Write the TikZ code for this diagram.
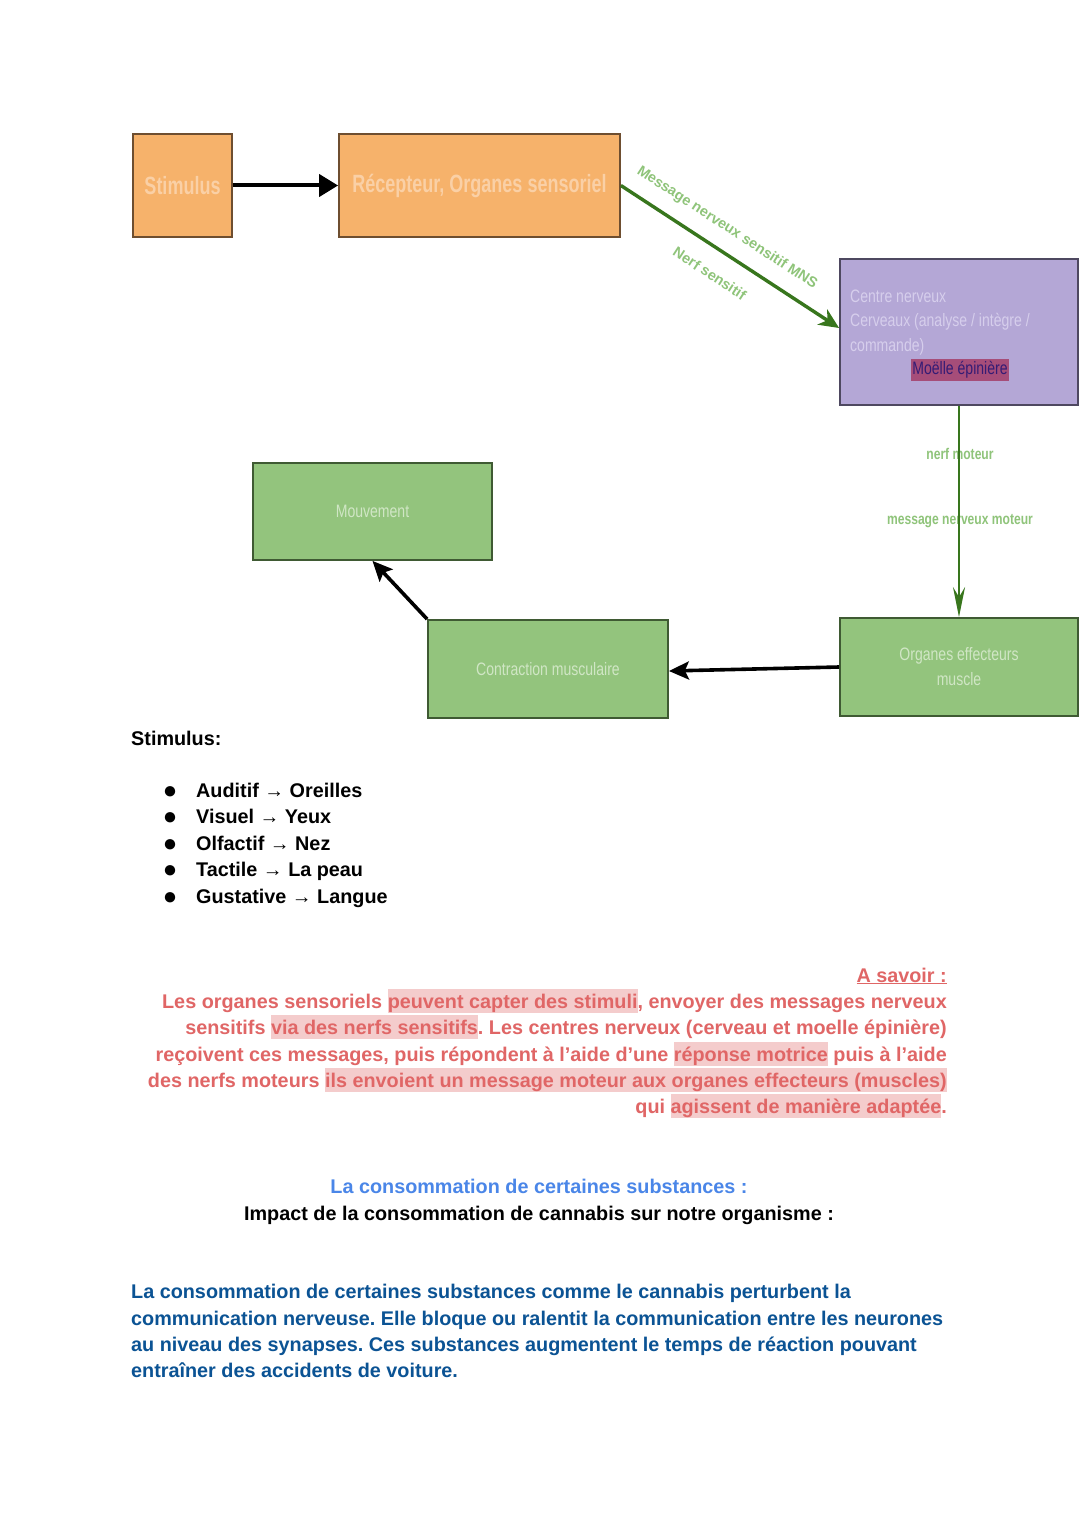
\documentclass[tikz,border=0pt]{standalone}
\usepackage{fontspec}
\setmainfont{Liberation Sans}
\newfontfamily\narrowfont[FakeStretch=0.78]{Liberation Sans}
\newfontfamily\narrowboldfont[FakeStretch=0.72]{Liberation Sans Bold}
\usetikzlibrary{arrows.meta,positioning}

\definecolor{orangefill}{HTML}{F6B26B}
\definecolor{orangeline}{HTML}{6E4E30}
\definecolor{orangetext}{HTML}{FAD0A6}
\definecolor{purplefill}{HTML}{B4A7D6}
\definecolor{purpleline}{HTML}{4E4860}
\definecolor{purpletext}{HTML}{D6CEEC}
\definecolor{greenfill}{HTML}{93C47D}
\definecolor{greenline}{HTML}{3F5A33}
\definecolor{greentext}{HTML}{D0E6C5}
\definecolor{nervegreen}{HTML}{38761D}
\definecolor{labelgreen}{HTML}{8FC47A}
\definecolor{hlmagenta}{HTML}{A64D79}
\definecolor{darkpurple}{HTML}{351C75}
\definecolor{redtext}{HTML}{E06666}
\definecolor{hlpink}{HTML}{F4CCCC}
\definecolor{titleblue}{HTML}{4A86E8}
\definecolor{darkblue}{HTML}{0B5394}

\newcommand{\hlt}[1]{{\setlength{\fboxsep}{0pt}\colorbox{hlpink}{\rule[-5pt]{0pt}{24pt}#1}}}

\tikzset{
  orangebox/.style={draw=orangeline, fill=orangefill, line width=1.8pt, text=orangetext,
    font=\narrowboldfont\fontsize{25}{30}\selectfont},
  purplebox/.style={draw=purpleline, fill=purplefill, line width=1.8pt},
  greenbox/.style={draw=greenline, fill=greenfill, line width=1.8pt, text=greentext, align=center,
    font=\narrowfont\fontsize{18}{25}\selectfont},
  nervelabel/.style={text=labelgreen, inner sep=0pt, font=\bfseries\fontsize{14.5}{17}\selectfont},
  motorlabel/.style={text=labelgreen, inner sep=0pt, font=\narrowfont\bfseries\fontsize{15.5}{18}\selectfont},
  blackarrow/.style={line width=4pt, -{Triangle[length=19pt,width=22pt]}},
  blackstealth/.style={line width=3.6pt, -{Stealth[length=20pt,width=18pt,inset=4pt]}},
  nervearrow/.style={nervegreen, line width=3.4pt, -{Stealth[length=20pt,width=18pt,inset=6pt]}},
  motorarrow/.style={nervegreen, line width=2.4pt, -{Stealth[length=30pt,width=12pt,inset=10pt]}},
  bodytxt/.style={inner sep=0pt, font=\frenchspacing\bfseries\fontsize{19.8}{26}\selectfont},
}

\begin{document}
\begin{tikzpicture}[x=1pt,y=-1pt]
\useasboundingbox[fill=white] (0,0) rectangle (1080,1525);

% diagram boxes
\node[orangebox, minimum width=99, minimum height=103] (stimulus) at (182.5,185.5) {Stimulus};
\node[orangebox, minimum width=281, minimum height=103] (recepteur) at (479.5,185.5) {Récepteur, Organes sensoriel};
\node[purplebox, minimum width=238, minimum height=146] (centre) at (959,332) {};
\node[text=purpletext, inner sep=0pt, anchor=north west, align=left,
  font=\narrowfont\fontsize{18}{24.5}\selectfont] (centretxt) at (850,289.5)
  {Centre nerveux\\Cerveaux (analyse / intègre /\\commande)};
\node[fill=hlmagenta, text=darkpurple, inner xsep=1pt, inner ysep=3pt,
  font=\narrowfont\fontsize{18}{22}\selectfont] (moelle) at (960,370) {Moëlle épinière};
\node[greenbox, minimum width=238, minimum height=98] (effecteurs) at (959,667) {Organes effecteurs\\muscle};
\node[greenbox, minimum width=240, minimum height=98] (contraction) at (548,669) {Contraction musculaire};
\node[greenbox, minimum width=239, minimum height=97] (mouvement) at (372.5,511.5) {Mouvement};

% connectors
\draw[blackarrow] (stimulus) -- (recepteur);
\draw[nervearrow] (recepteur.east) -- ([yshift=4pt]centre.west)
  node[nervelabel, pos=0.43, sloped, above=14pt] (mns) {Message nerveux sensitif MNS}
  node[nervelabel, pos=0.47, sloped, below=18pt] (nerfsens) {Nerf sensitif};
\node[motorlabel] (nerfmot) at (960,454) {nerf moteur};
\node[motorlabel] (msgmot) at (960,521) {message nerveux moteur};
\draw[motorarrow] (centre) -- (effecteurs);
\draw[blackstealth] (effecteurs.west) -- ([yshift=-2pt]contraction.east);
\draw[blackstealth] (contraction.north west) -- (mouvement.south);

% stimulus list
\node[bodytxt, anchor=base west] (stimtitle) at (131,745) {Stimulus:};
\foreach \item [count=\i] in {Auditif → Oreilles, Visuel → Yeux, Olfactif → Nez,
    Tactile → La peau, Gustative → Langue} {
  \node[inner sep=0pt, font=\fontsize{24}{24}\selectfont] (bullet\i) at (170,{792.5+(\i-1)*26.5}) {●};
  \node[bodytxt, anchor=base west] (item\i) at (196,{797+(\i-1)*26.5}) {\item};
}

% a savoir
\begin{scope}[every node/.style={bodytxt, anchor=base east, text=redtext}]
\node (savoir) at (947,982) {\underline{A savoir :}};
\node (red1) at (947,1008) {Les organes sensoriels \hlt{peuvent capter des stimuli}, envoyer des messages nerveux};
\node (red2) at (947,1034) {sensitifs \hlt{via des nerfs sensitifs}. Les centres nerveux (cerveau et moelle épinière)};
\node (red3) at (947,1061) {reçoivent ces messages, puis répondent à l’aide d’une \hlt{réponse motrice} puis à l’aide};
\node (red4) at (947,1087) {des nerfs moteurs \hlt{ils envoient un message moteur aux organes effecteurs (muscles)}};
\node (red5) at (947,1113) {qui \hlt{agissent de manière adaptée}.};
\end{scope}

% cannabis
\node[bodytxt, anchor=base, text=titleblue] (subst) at (539,1193) {La consommation de certaines substances :};
\node[bodytxt, anchor=base] (impact) at (539,1220) {Impact de la consommation de cannabis sur notre organisme :};
\begin{scope}[every node/.style={bodytxt, anchor=base west, text=darkblue}]
\node (blue1) at (131,1298) {La consommation de certaines substances comme le cannabis perturbent la};
\node (blue2) at (131,1325) {communication nerveuse. Elle bloque ou ralentit la communication entre les neurones};
\node (blue3) at (131,1351) {au niveau des synapses. Ces substances augmentent le temps de réaction pouvant};
\node (blue4) at (131,1377) {entraîner des accidents de voiture.};
\end{scope}
\end{tikzpicture}
\end{document}
